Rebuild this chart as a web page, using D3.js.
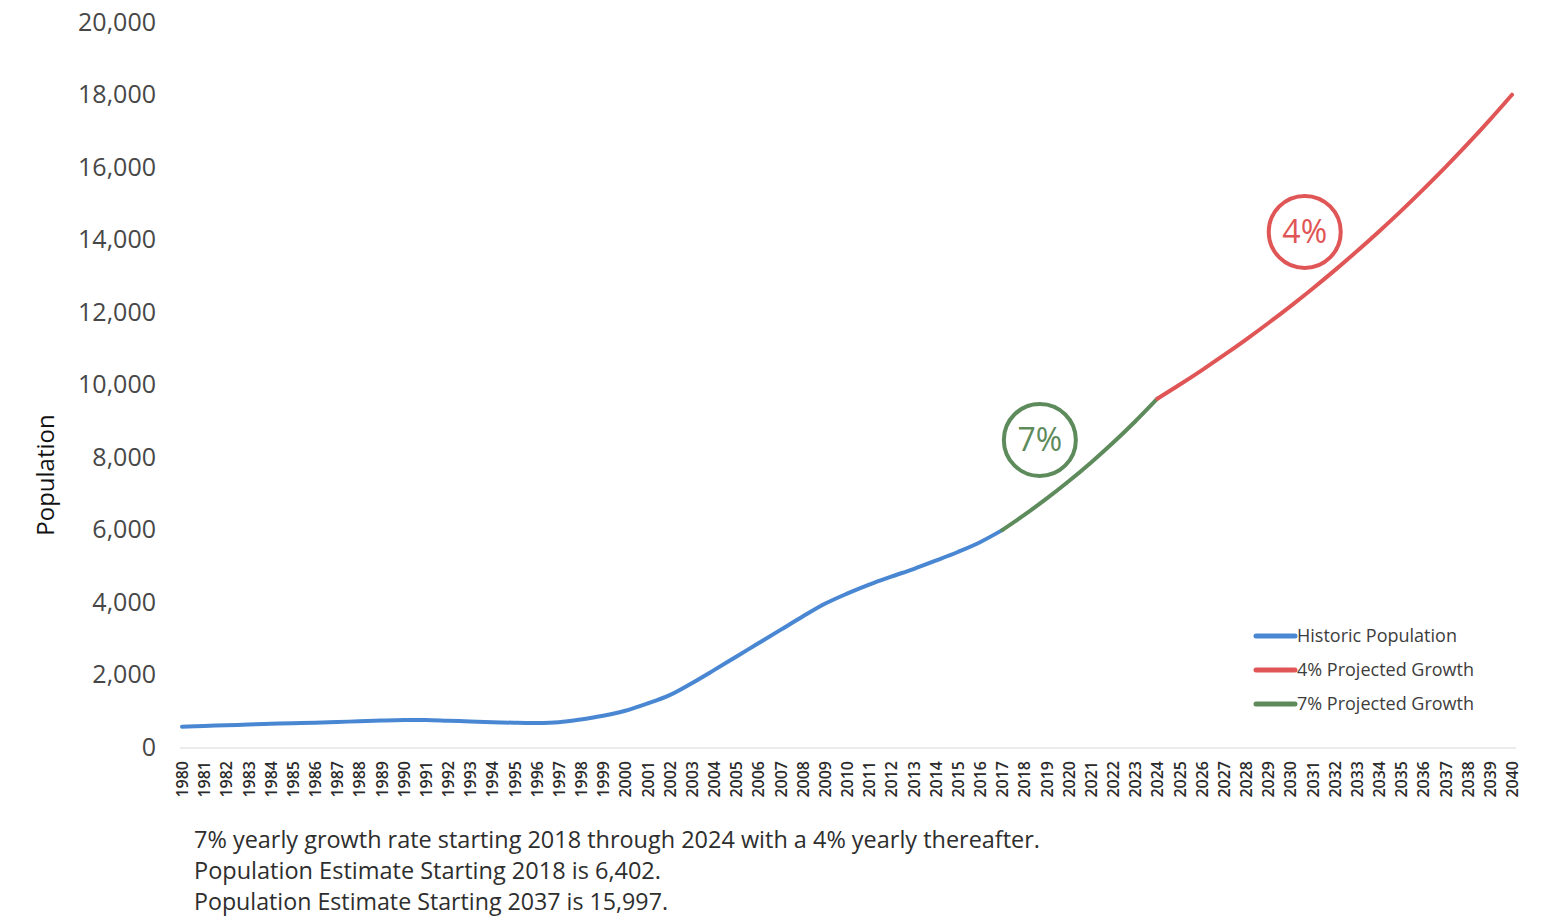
<!DOCTYPE html>
<html>
<head>
<meta charset="utf-8">
<script src="https://d3js.org/d3.v7.min.js"></script>
<style>
	body { margin: 0; background: #fff; }
	svg { display: block; font-family: "Open Sans", sans-serif; }
	.line { fill: none; stroke-width: 4px; stroke-linecap: round; stroke-linejoin: round; }
</style>
</head>
<body>
<div id="chart"></div>
<script>
(function () {
	"use strict";

	// years on the category axis
	var years = d3.range(1980, 2041);

	// historic population, 1980 - 2017
	var historicYears = d3.range(1980, 2018);
	var historicValues = [
		560, 580, 600, 620, 640, 655, 670, 690, 710, 730,
		745, 745, 725, 705, 685, 668, 662, 685, 760, 860,
		1000, 1200, 1430, 1760, 2120, 2490, 2860, 3230, 3600, 3950,
		4230, 4480, 4700, 4910, 5140, 5380, 5650, 5983
	];

	// 7% projected growth, 2017 - 2024
	var growth7Years = d3.range(2017, 2025);
	var growth7Values = [5983, 6402, 6850, 7330, 7843, 8392, 8979, 9608];

	// 4% projected growth, 2024 - 2040
	var growth4Years = d3.range(2024, 2041);
	var growth4Values = [
		9608, 9992, 10392, 10808, 11240, 11690, 12157, 12643, 13149,
		13675, 14222, 14791, 15383, 15997, 16637, 17302, 17994
	];

	var yTicks = [0, 2000, 4000, 6000, 8000, 10000, 12000, 14000, 16000, 18000, 20000];

	var seriesNames = ["Historic Population", "4% Projected Growth", "7% Projected Growth"];
	var seriesColors = ["#4a87d2", "#e05656", "#5e8b5c"];

	var callouts = [
		{ label: "7%", year: 2018.7, value: 8470, color: "#5e8b5c" },
		{ label: "4%", year: 2030.65, value: 14210, color: "#e05656" }
	];

	var notes = [
		"7% yearly growth rate starting 2018 through 2024 with a 4% yearly thereafter.",
		"Population Estimate Starting 2018 is 6,402.",
		"Population Estimate Starting 2037 is 15,997."
	];

	var canvasWidth = 1542,
		canvasHeight = 917,
		svg = d3.select("#chart").append("svg")
			.attr("width", canvasWidth)
			.attr("height", canvasHeight),
		x = d3.scaleLinear().domain([1980, 2040]).range([182, 1512]),
		y = d3.scaleLinear().domain([0, 20000]).range([747, 22]),
		fmt = d3.format(",");

	// baseline
	svg.append("line")
		.attr("x1", x(1980) - 2).attr("x2", x(2040) + 4)
		.attr("y1", y(0) + 1).attr("y2", y(0) + 1)
		.style("stroke", "#e4e4e4")
		.style("stroke-width", 1.5);

	// y axis labels
	var yAxis = svg.append("g")
		.attr("transform", "translate(156,0)")
		.call(d3.axisLeft(y).tickValues(yTicks).tickFormat(fmt).tickSize(0).tickPadding(0));
	yAxis.select(".domain").remove();
	yAxis.selectAll("text")
		.style("font-size", "25px")
		.style("fill", "#474747")
		.style("font-family", "\"Open Sans\", sans-serif");

	svg.append("text")
		.attr("transform", "translate(54,475) rotate(-90)")
		.attr("text-anchor", "middle")
		.style("font-size", "24px")
		.style("fill", "#111")
		.text("Population");

	// x axis labels, rotated
	var xAxis = svg.append("g")
		.attr("transform", "translate(0," + (y(0) + 14) + ")")
		.call(d3.axisBottom(x).tickValues(years).tickFormat(d3.format("d")).tickSize(0).tickPadding(0));
	xAxis.select(".domain").remove();
	xAxis.selectAll("text")
		.attr("transform", "rotate(-90)")
		.attr("text-anchor", "end")
		.attr("x", 0)
		.attr("y", 0)
		.attr("dy", "0.35em")
		.style("font-size", "16px")
		.style("font-weight", "600")
		.style("fill", "#2b2b2b")
		.style("font-family", "\"Open Sans\", sans-serif");

	// lines
	var line = d3.line()
		.x(function (d) { return x(d[0]); })
		.y(function (d) { return y(d[1]); })
		.curve(d3.curveCatmullRom.alpha(0.5));

	function pairs(ks, vs) {
		return ks.map(function (k, i) { return [k, vs[i]]; });
	}

	var lines = [
		{ data: pairs(historicYears, historicValues), color: seriesColors[0] },
		{ data: pairs(growth7Years, growth7Values), color: seriesColors[2] },
		{ data: pairs(growth4Years, growth4Values), color: seriesColors[1] }
	];

	svg.selectAll("path.line")
		.data(lines)
		.enter().append("path")
		.attr("class", "line")
		.attr("d", function (d) { return line(d.data); })
		.style("stroke", function (d) { return d.color; });

	// callout circles
	var co = svg.selectAll("g.callout")
		.data(callouts)
		.enter().append("g")
		.attr("class", "callout")
		.attr("transform", function (d) { return "translate(" + x(d.year) + "," + y(d.value) + ")"; });
	co.append("circle")
		.attr("r", 36)
		.style("fill", "#fff")
		.style("stroke", function (d) { return d.color; })
		.style("stroke-width", 4);
	co.append("text")
		.attr("text-anchor", "middle")
		.attr("dy", "0.36em")
		.style("font-size", "32px")
		.style("fill", function (d) { return d.color; })
		.text(function (d) { return d.label; });

	// legend
	var legend = svg.selectAll("g.legend")
		.data(seriesNames)
		.enter().append("g")
		.attr("class", "legend")
		.attr("transform", function (d, i) { return "translate(1256," + (636 + i * 34) + ")"; });
	legend.append("line")
		.attr("x1", 0).attr("x2", 39)
		.style("stroke", function (d, i) { return seriesColors[i]; })
		.style("stroke-width", 5)
		.style("stroke-linecap", "round");
	legend.append("text")
		.attr("x", 41)
		.attr("dy", "0.35em")
		.style("font-size", "18px")
		.style("fill", "#3d3d3d")
		.text(function (d) { return d; });

	// notes under the chart
	var noteWidths = [846, 467, 474];
	svg.selectAll("text.note")
		.data(notes)
		.enter().append("text")
		.attr("class", "note")
		.attr("x", 194)
		.attr("y", function (d, i) { return 848 + i * 31; })
		.attr("textLength", function (d, i) { return noteWidths[i]; })
		.attr("lengthAdjust", "spacingAndGlyphs")
		.style("font-size", "23px")
		.style("fill", "#2e2e2e")
		.text(function (d) { return d; });
})();
</script>
</body>
</html>
